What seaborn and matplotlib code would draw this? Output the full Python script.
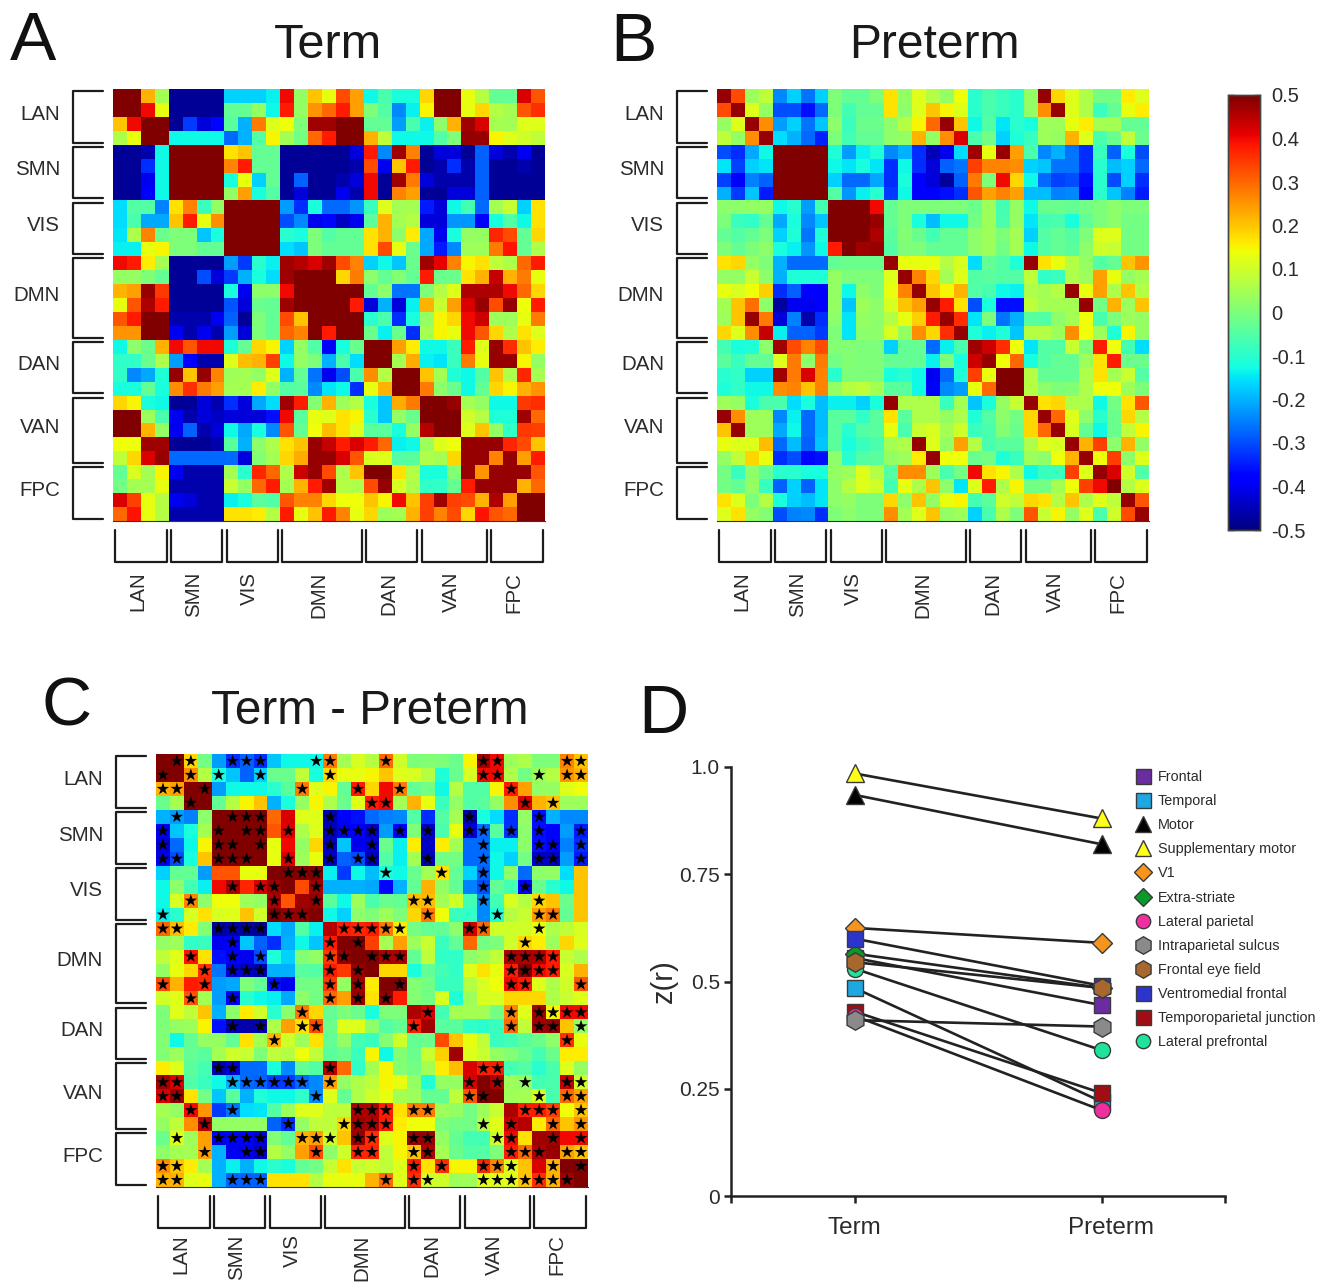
import numpy as np
import seaborn as sns
from matplotlib import pyplot as plt
from matplotlib.transforms import ScaledTranslation

# correlation values, in hundredths
term_vals = [
    [50,50,22,5,-48,-48,-48,-48,-17,-17,-17,-14,40,3,20,13,33,24,-13,-6,-12,-12,18,50,50,13,7,-3,-3,42,32],
    [50,50,40,13,-48,-48,-48,-48,-3,-3,3,-13,38,3,25,30,38,24,0,-5,-24,-14,15,50,50,13,18,7,5,32,36],
    [20,40,50,50,-48,-32,-42,-37,-4,-20,28,12,14,0,47,47,50,50,-3,-3,-22,-6,-14,2,22,47,42,5,5,12,12],
    [6,13,50,50,-13,-13,-13,-13,-27,-20,-5,15,5,-1,30,38,50,50,22,8,-13,-13,-13,-5,0,48,48,15,12,10,8],
    [-48,-48,-46,-13,50,50,50,50,17,20,-3,-3,-48,-48,-48,-48,-48,-42,38,-24,47,27,-48,-42,-42,-48,-28,-42,-46,-40,-48],
    [-48,-48,-33,-13,50,50,50,50,27,38,-3,-3,-48,-48,-48,-48,-48,-46,33,-40,20,38,-48,-46,-33,-46,-28,-48,-48,-46,-48],
    [-48,-48,-40,-13,50,50,50,50,-12,13,-17,-3,-48,-28,-48,-48,-46,-42,40,-48,47,28,-42,-46,-46,-46,-28,-48,-48,-48,-48],
    [-48,-48,-38,-13,50,50,50,50,3,24,-12,-5,-48,-42,-48,-48,-40,-46,40,-48,27,24,-48,-48,-42,-42,-28,-48,-48,-48,-48],
    [-16,-5,-5,-25,17,27,-8,3,50,50,50,50,-22,-33,-12,-27,-27,-23,-8,12,5,5,-35,-42,-13,-7,-27,5,9,-17,17],
    [-16,-6,-21,-21,20,38,13,26,50,50,50,50,-30,-24,-40,-37,-44,-40,-4,22,5,7,-42,-42,-23,-23,-38,-12,-5,-13,17],
    [-15,6,27,-2,0,0,-18,-12,50,50,50,50,-10,-12,0,-5,-3,-3,17,22,2,16,-21,-40,-12,3,3,37,33,-3,18],
    [-14,-14,13,15,0,0,-3,-3,50,50,50,50,-16,-18,0,-3,-3,-3,17,33,13,-2,-21,-35,-24,4,4,28,39,-3,6],
    [40,38,16,5,-48,-48,-48,-48,-22,-32,-10,-14,47,45,42,47,33,27,-17,-13,-18,-2,47,41,27,15,17,8,6,30,38],
    [3,3,0,-3,-48,-48,-30,-42,-32,-20,-12,-16,47,50,50,50,18,28,2,-3,1,-3,38,-2,-2,17,22,44,22,28,13],
    [22,24,48,35,-48,-48,-48,-48,-12,-40,2,2,40,50,50,50,50,50,-3,2,-26,-26,0,7,12,46,46,46,40,30,18],
    [13,32,46,38,-48,-48,-48,-48,-29,-42,-2,-3,47,50,50,50,50,38,-42,-20,-42,-14,22,9,24,42,48,33,48,14,38],
    [32,38,50,50,-46,-46,-46,-40,-28,-48,0,-3,33,20,50,50,50,50,-10,-6,-33,-12,3,15,18,40,43,4,4,13,28],
    [25,25,50,50,-40,-46,-40,-46,-22,-42,0,-3,30,27,50,38,50,50,-2,-14,-2,-33,5,15,13,40,32,18,6,17,12],
    [-13,2,-2,22,40,32,40,40,-11,-3,18,15,-17,3,-5,-38,-12,-2,50,50,24,16,-13,-13,-8,38,12,48,36,20,16],
    [-9,-9,-2,6,-22,-38,-46,-46,12,21,22,34,-13,3,0,-20,-6,-16,50,50,5,23,-14,-15,-8,28,13,48,48,15,3],
    [-9,-24,-21,-11,48,20,48,27,4,5,3,12,-20,-3,-26,-40,-30,-6,26,7,50,50,20,5,-11,-13,-5,20,6,37,5],
    [-12,-12,-3,-12,26,36,28,24,5,5,16,3,-5,-4,-24,-15,-13,-33,13,22,50,50,28,2,-2,-13,-3,18,15,22,25],
    [18,15,-12,-13,-48,-48,-42,-46,-33,-42,-21,-16,47,38,1,22,4,7,-12,-18,23,28,50,50,48,5,3,-13,-13,35,36],
    [50,50,4,-6,-40,-46,-42,-44,-42,-42,-42,-36,40,-4,13,12,17,15,-10,-18,3,-2,50,50,50,10,7,-11,-11,47,30],
    [50,50,22,3,-40,-28,-46,-42,-13,-21,-12,-24,32,-3,14,21,17,12,-4,-4,-12,3,45,50,50,12,20,3,-9,35,34],
    [14,14,47,47,-48,-48,-48,-46,-4,-20,2,6,17,20,48,44,38,42,38,30,-14,-13,4,12,14,48,48,48,37,33,20],
    [8,18,42,48,-27,-27,-27,-27,-27,-42,1,5,18,23,48,48,42,32,11,12,-5,-4,6,5,18,48,48,27,48,24,38],
    [-3,11,5,15,-40,-46,-46,-46,5,-10,37,30,6,43,48,33,6,20,50,50,17,7,-12,-12,1,48,25,48,48,48,32],
    [-1,5,5,13,-46,-46,-46,-46,9,3,30,38,5,22,38,47,7,6,33,48,11,6,-9,-9,-3,38,48,48,48,22,30],
    [42,34,13,7,-40,-42,-46,-46,-14,-12,-4,-5,32,27,27,18,14,14,20,15,40,20,34,47,34,33,22,46,24,50,50],
    [30,39,13,7,-46,-46,-46,-46,17,17,16,7,38,13,20,38,27,13,18,4,5,22,34,27,33,18,39,32,30,50,50],
]

preterm_vals = [
    [48,33,4,8,-24,-17,-26,-17,0,-3,-3,0,17,3,12,7,3,14,-10,-6,-8,-10,3,48,18,12,6,-1,-1,16,12],
    [33,48,12,3,-30,-30,-36,-27,0,-7,-3,-3,17,2,12,20,15,12,-10,-6,-8,-10,3,26,48,12,6,-8,-3,13,16],
    [3,12,48,26,-22,-17,-26,-18,2,-8,-2,-2,2,7,15,30,48,20,-13,-5,-15,-10,-12,4,4,13,16,5,5,-3,-3],
    [8,3,26,48,-16,-20,-27,-34,0,-7,-3,-3,2,3,22,3,26,42,-6,-1,-17,-11,-8,4,3,22,12,-6,-2,8,-2],
    [-30,-33,-21,-13,50,50,50,50,-11,-22,-14,-11,-24,-20,-33,-45,-40,-16,47,13,48,24,-6,-24,-20,-26,-33,-8,-28,-12,-30],
    [-15,-31,-17,-15,50,50,50,50,-13,-15,-12,-15,-33,-13,-33,-42,-28,-26,34,27,27,26,-17,-18,-26,-26,-33,-10,-19,-17,-27],
    [-31,-38,-25,-28,50,50,50,50,-17,-27,-27,-21,-33,-12,-38,-42,-47,-28,28,0,40,18,-13,-27,-31,-30,-36,-10,-30,-17,-33],
    [-20,-32,-18,-35,50,50,50,50,-5,-23,-14,-10,-32,-13,-38,-38,-36,-33,32,24,27,24,-19,-19,-25,-24,-38,-10,-18,-25,-35],
    [2,2,3,3,-13,-10,-22,-7,50,50,50,40,-3,0,0,0,0,0,-2,4,-7,3,-13,-2,-2,-3,-1,0,2,0,0],
    [0,-8,-9,-3,-21,-12,-24,-18,50,50,50,48,-3,0,-12,-19,-13,-13,-1,4,-6,3,-15,-7,-6,-12,-3,0,2,-1,-1],
    [-3,-5,-3,0,-17,-11,-26,-11,50,50,50,46,-4,1,-2,-7,-3,-3,2,4,0,5,-17,-5,-3,-5,0,12,12,-1,-1],
    [0,-3,0,2,-12,-14,-23,-13,38,50,47,48,-5,0,0,-3,-3,-3,2,4,-1,5,-13,-5,-3,-4,2,10,9,-1,-1],
    [17,18,3,0,-20,-27,-27,-27,-3,-2,-2,-2,48,13,13,13,7,11,-16,-3,-5,-11,48,17,13,7,3,-5,-3,20,25],
    [3,3,9,2,-20,-11,-11,-11,3,0,0,0,12,48,27,18,5,12,-5,-4,-5,-5,8,-9,-8,6,4,24,13,3,5],
    [13,11,14,19,-33,-28,-38,-38,3,-13,2,0,13,27,48,20,15,22,-5,-6,-13,-14,6,5,7,48,13,24,6,20,7],
    [5,20,29,2,-47,-40,-40,-38,3,-18,4,2,11,20,24,48,38,17,-30,-12,-36,-36,8,5,5,5,48,-1,22,4,20],
    [4,20,48,28,-42,-25,-46,-33,2,-15,3,2,7,13,19,38,48,36,-15,0,-26,-20,-4,-5,2,5,14,-6,0,4,3],
    [18,12,26,44,-14,-28,-28,-32,0,-15,2,2,11,3,26,18,36,48,-11,-14,-11,-18,7,7,4,26,14,4,-11,15,3],
    [-7,-12,-11,2,47,33,27,33,1,1,0,0,-17,-3,-3,-27,-14,-6,47,43,36,14,-15,-5,-5,9,0,38,14,-7,-16],
    [-4,-8,-3,-3,12,28,2,28,-1,1,0,0,-3,-3,-3,-14,0,-12,43,48,14,30,-12,-5,-3,-3,4,17,38,-2,-2],
    [-10,-9,-17,-17,47,28,42,27,-10,0,0,0,-12,-10,-13,-40,-27,-11,34,13,50,50,7,-3,-3,-3,6,17,5,9,-5],
    [-11,-9,-13,-13,26,27,20,27,3,7,8,5,-4,-4,-13,-38,-24,-22,13,30,50,50,7,2,0,1,6,14,14,4,0],
    [4,3,-12,-6,-6,-16,-12,-19,-14,-14,-17,-12,48,6,6,6,-8,5,-18,-12,3,9,48,17,18,6,6,-13,-1,17,32],
    [48,26,4,4,-24,-14,-27,-19,-4,-4,-9,-4,17,-4,6,6,3,6,-11,-5,2,-1,18,48,30,12,2,-10,-2,18,7],
    [20,48,4,4,-21,-13,-27,-19,-4,-10,-5,-4,13,-6,9,11,5,10,-8,-6,1,-2,18,30,48,11,-3,-13,-2,8,15],
    [13,12,12,21,-27,-19,-28,-18,-4,-12,-8,-6,5,6,48,12,3,24,7,-6,-4,-4,6,12,11,48,22,34,2,22,3],
    [3,8,18,13,-33,-30,-37,-36,2,-10,-5,-4,3,4,16,48,14,14,-2,-1,-11,-8,4,2,14,22,48,14,34,2,12],
    [-1,-8,2,-3,-10,-10,-12,-12,3,4,12,7,-5,26,26,4,-6,-1,40,17,15,6,-13,-8,-8,34,12,48,42,10,-5],
    [-1,-3,3,-8,-28,-17,-28,-15,2,7,12,10,-7,13,6,20,2,-15,12,38,6,15,-1,-1,5,14,34,40,50,7,12],
    [17,12,0,7,-12,-17,-19,-15,2,3,0,0,18,2,20,3,13,15,-7,-4,10,8,18,17,7,20,6,12,8,48,32],
    [12,17,3,1,-30,-25,-24,-33,0,2,0,0,26,5,12,20,3,4,-17,-6,6,0,32,9,15,3,12,-6,10,33,48],
]

diff_vals = [
    [50,50,18,-1,-22,-33,-28,-33,-18,-13,-13,-13,28,5,11,7,30,10,0,1,0,-2,15,47,40,4,6,0,0,27,20],
    [50,50,26,7,-12,-18,-28,-17,-2,-2,8,-12,18,13,13,15,20,12,11,7,-11,-2,11,40,40,6,-1,4,7,25,22],
    [22,24,50,50,-22,-13,-13,-13,-10,-4,28,12,15,-3,38,18,40,28,-3,-1,-13,7,-5,-5,15,38,24,3,3,12,14],
    [-2,5,50,50,-3,7,15,20,-20,-12,3,15,6,-2,12,38,40,5,22,13,-8,3,-5,-4,3,26,42,22,20,4,4],
    [-20,-22,-25,2,50,50,50,50,30,42,12,12,-45,-38,-36,-27,-25,-24,-5,-33,-5,5,-46,-12,-16,-33,3,-36,-20,-24,-24],
    [-40,-18,-12,5,50,50,50,50,32,42,6,12,-45,-40,-38,-44,-22,-38,0,-44,-6,13,-42,-27,-4,-33,2,-36,-38,-22,-35],
    [-42,-27,-13,15,50,50,50,50,13,40,3,18,-44,-18,-40,-42,-2,-14,16,-44,16,5,-27,-27,-14,-14,2,-36,-38,-25,-33],
    [-40,-30,-12,20,50,50,50,50,13,42,4,13,-44,-28,-30,-44,-5,-14,5,-45,-1,-1,-27,-27,-13,-17,-1,-44,-44,-22,-35],
    [-17,-3,-3,-22,32,32,13,13,50,50,50,50,-14,-32,-13,-19,-12,-13,-2,5,17,-3,-17,-28,-13,2,-27,2,3,-16,20],
    [-13,2,-7,-14,40,46,37,42,47,50,33,47,-20,-20,-20,-21,-37,-20,-3,22,3,-3,-25,-30,-3,-7,-38,-2,-10,-13,20],
    [-13,11,27,2,14,14,4,3,46,32,47,48,-4,-13,4,-6,-2,-3,21,21,5,10,-7,-24,-7,11,7,18,20,-2,20],
    [-14,-10,11,17,11,12,20,10,50,48,48,50,-13,-17,2,0,4,0,18,28,14,-8,-9,-24,-11,7,9,24,28,-3,20],
    [30,21,16,1,-47,-46,-47,-48,-16,-21,-5,-14,45,38,37,38,28,16,-1,-3,-3,2,43,30,10,10,10,13,6,8,11],
    [3,4,-9,-8,-40,-38,-18,-28,-33,-20,-13,-18,38,50,50,34,5,24,4,9,-8,-3,30,-1,0,10,18,16,4,18,12],
    [8,12,39,17,-36,-38,-40,-30,-11,-17,1,3,35,48,50,50,46,46,-3,8,-9,-9,2,4,8,46,46,46,38,9,6],
    [3,13,18,36,-26,-42,-44,-46,-20,-20,-4,-5,38,35,48,50,18,18,-12,-3,-7,-9,12,17,13,38,50,40,38,11,22],
    [33,22,38,37,-22,-21,0,-3,-36,-40,-1,-1,35,3,47,16,50,50,1,-1,-8,-8,7,11,14,40,38,12,6,10,32],
    [10,12,32,5,-22,-38,-10,-13,-14,-21,2,-1,30,24,48,17,48,38,1,-1,11,-11,4,11,11,18,18,18,6,9,12],
    [0,12,8,20,-20,2,16,10,-10,2,28,18,-3,0,-2,-12,0,0,46,42,-7,5,5,5,-1,27,12,47,15,40,40],
    [0,3,4,15,-36,-46,-46,-46,6,24,17,33,-2,12,12,2,-5,-3,38,47,-4,-4,-9,-10,-8,30,8,47,48,20,3],
    [1,-13,-3,3,3,-3,17,5,22,10,4,17,-3,3,-7,-8,1,10,-3,-2,33,20,13,8,-8,-7,-4,-2,2,36,13],
    [1,4,-3,-4,5,10,9,0,8,7,14,8,-4,-2,-8,15,-13,1,-2,9,19,47,12,9,3,1,-2,-7,-2,16,16],
    [16,12,-4,-7,-46,-42,-27,-27,-12,-24,-3,-5,45,30,-9,5,15,1,-1,5,16,21,42,38,38,-7,-5,-10,-6,12,3],
    [47,42,-5,-8,-13,-20,-27,-28,-32,-32,-27,-24,24,3,6,8,15,13,3,-11,3,3,42,50,46,4,3,-7,-6,44,10],
    [42,48,17,-1,-18,-4,-20,-11,-13,-13,-9,-24,12,-3,6,10,13,5,4,-3,-3,8,32,50,50,4,5,11,-6,30,24],
    [5,3,40,25,-32,-26,-16,-15,-5,4,12,12,8,8,46,46,38,17,28,28,4,3,-1,4,9,46,38,38,34,14,20],
    [3,8,26,45,3,3,3,3,-28,-33,3,8,8,18,47,46,38,16,14,14,0,-1,-1,7,12,43,45,16,30,20,25],
    [-2,12,4,24,-40,-38,-38,-42,1,-3,22,24,10,20,48,36,12,15,48,48,3,-3,-7,-7,10,40,17,47,47,40,40],
    [2,5,5,24,-20,-40,-40,-44,7,3,24,33,2,10,37,37,8,15,20,46,5,-2,-5,-5,0,38,30,46,48,24,20],
    [26,20,16,5,-20,-14,-20,-13,-10,-12,-3,-1,9,17,9,10,8,12,38,17,36,15,15,37,27,12,20,42,22,50,50],
    [22,22,12,13,-20,-28,-28,-28,17,17,17,7,13,13,13,22,30,12,36,10,10,4,4,13,12,12,20,36,22,47,50],
]

# significant cells in panel C, list of columns per row
star_cols = [
    [1,2,5,6,7,11,12,16,23,24,29,30],
    [0,2,4,7,12,23,24,27,29,30],
    [0,1,3,10,14,17,25],
    [2,15,16,26,28],
    [1,5,6,7,12,22,27],
    [0,4,6,7,9,12,13,14,15,17,19,22,23,25,27,30],
    [0,4,5,7,12,15,23,27,28,30],
    [0,1,4,5,6,9,12,14,15,19,23,27,28,30],
    [9,10,11,16,20,23],
    [5,7,8,11,23,26],
    [2,8,11,18,19,23,27],
    [0,8,9,10,19,24,27,28],
    [0,1,4,5,6,7,13,14,15,16,17,22,23,27],
    [5,12,14,26],
    [2,5,7,12,13,15,16,17,25,26,27,28],
    [3,5,6,7,12,14,25,26,27,28],
    [0,3,8,12,14,17,25,26,30],
    [2,5,12,14,16],
    [10,19,25,27,28,29,30],
    [5,7,10,11,18,25,27,28,30],
    [8,29],
    [],
    [4,5,12,23,24],
    [0,1,5,6,7,8,9,10,12,22,24,26,29,30],
    [0,1,11,22,23,27,29,30],
    [2,5,14,15,16,18,19,26,27,28,30],
    [3,9,13,14,15,16,23,25,28,30],
    [1,4,5,6,7,10,11,12,14,15,18,19,24,25,28,30],
    [3,6,7,11,14,15,18,19,25,26,27,29,30],
    [0,1,18,20,23,24,25,28,30],
    [0,1,5,6,7,16,18,19,23,24,25,26,27,28,29],
]

networks = ['LAN', 'SMN', 'VIS', 'DMN', 'DAN', 'VAN', 'FPC']
network_sizes = [4, 4, 4, 6, 4, 5, 4]
cbar_ticks = [-0.5, -0.4, -0.3, -0.2, -0.1, 0, 0.1, 0.2, 0.3, 0.4, 0.5]

conditions = ['Term', 'Preterm']
regions = ['Frontal', 'Temporal', 'Motor', 'Supplementary motor', 'V1', 'Extra-striate', 'Lateral parietal',
           'Intraparietal sulcus', 'Frontal eye field', 'Ventromedial frontal', 'Temporoparietal junction',
           'Lateral prefrontal']
term_z = [0.555, 0.485, 0.935, 0.985, 0.625, 0.565, 0.42, 0.41, 0.545, 0.60, 0.43, 0.53]
preterm_z = [0.445, 0.22, 0.82, 0.88, 0.59, 0.485, 0.20, 0.395, 0.485, 0.49, 0.24, 0.34]
region_colors = ['#6a2ca0', '#1ea7e1', '#000000', '#ffff1a', '#f7941d', '#0a9a2a', '#ee2fa0', '#8a8a8a', '#a8672f',
                 '#2b35cc', '#a00d14', '#1fe39a']
region_markers = ['s', 's', '^', '^', 'D', 'D', 'o', 'h', 'h', 's', 's', 'o']
draw_order = [0, 1, 2, 3, 4, 5, 11, 9, 10, 6, 8, 7]
marker_sizes = {'s': 12, '^': 13, 'D': 10, 'o': 11.5, 'h': 14}

W, H = 1330, 1283
TEXT = '#2b2b2b'
SANS = 'Liberation Sans'

sns.set_style('white')
plt.rcParams['font.family'] = [SANS, 'DejaVu Sans']


def axes_px(fig, left, top, right, bottom):
    return fig.add_axes([left / W, 1 - bottom / H, (right - left) / W, (bottom - top) / H])


def draw_matrix(ax, vals, cbar_ax=None, label_y=34.65):
    sns.heatmap(np.array(vals) / 100, ax=ax, cmap='jet', vmin=-0.5, vmax=0.5, square=False,
                xticklabels=False, yticklabels=False, cbar=cbar_ax is not None, cbar_ax=cbar_ax)
    ax.set_xlim(0, 31)
    ax.set_ylim(31, 0)
    start = 0
    for name, size in zip(networks, network_sizes):
        end = start + size
        mid = start + size / 2
        ax.plot([-0.7, -2.85, -2.85, -0.7], [start + 0.15, start + 0.15, end - 0.15, end - 0.15],
                color='#1c1c1c', lw=1.6, clip_on=False)
        ax.plot([start + 0.15, start + 0.15, end - 0.15, end - 0.15], [31.65, 33.95, 33.95, 31.65],
                color='#1c1c1c', lw=1.6, clip_on=False)
        ax.text(-3.8, mid - 0.2, name, ha='right', va='center', fontsize=14.8, color=TEXT, clip_on=False)
        ax.text(mid - 0.2, label_y, name, ha='center', va='top', rotation=90, fontsize=14.8, color=TEXT,
                clip_on=False)
        start = end
    for side in ['top', 'left', 'right']:
        ax.spines[side].set_visible(False)
    ax.spines['bottom'].set_visible(True)
    ax.spines['bottom'].set_color('#333333')


fig = plt.figure(figsize=(W / 100, H / 100), dpi=100, facecolor='white')

ax_a = axes_px(fig, 113, 89, 545, 521)
draw_matrix(ax_a, term_vals)

ax_cb = axes_px(fig, 1228, 95, 1260, 530)
ax_b = axes_px(fig, 717, 89, 1149, 521)
draw_matrix(ax_b, preterm_vals, cbar_ax=ax_cb)
ax_cb.set_yticks(cbar_ticks)
ax_cb.set_yticklabels([f'{t:g}' for t in cbar_ticks], fontsize=14.5, color=TEXT)
ax_cb.tick_params(axis='y', which='both', direction='in', left=True, right=True, length=4, width=1,
                  color='#222222', pad=8, labelleft=False, labelright=True)
for spine in ax_cb.spines.values():
    spine.set_visible(True)
    spine.set_color('#444444')
    spine.set_linewidth(1)

ax_c = axes_px(fig, 156, 754, 588, 1187)
draw_matrix(ax_c, diff_vals, label_y=34.4)
star_x = [c + 0.5 for row in star_cols for c in row]
star_y = [i + 0.5 for i, row in enumerate(star_cols) for c in row]
sns.scatterplot(x=star_x, y=star_y, marker='*', s=90, color='black', edgecolor='none', ax=ax_c, zorder=3)
ax_c.set_xlim(0, 31)
ax_c.set_ylim(31, 0)
ax_c.set_xlabel('')
ax_c.set_ylabel('')

# panel D
ax_d = axes_px(fig, 731, 767, 1225, 1196)
for idx in draw_order:
    sns.lineplot(x=conditions, y=[term_z[idx], preterm_z[idx]], ax=ax_d, color='#222222', lw=1.9,
                 marker=region_markers[idx], markersize=marker_sizes[region_markers[idx]],
                 markerfacecolor=region_colors[idx], markeredgecolor='#3a3a3a', markeredgewidth=1,
                 label=regions[idx], zorder=3 + draw_order.index(idx), clip_on=False)
ax_d.set_xlim(-0.5, 1.5)
ax_d.set_ylim(0, 1)
ax_d.set_yticks([0, 0.25, 0.5, 0.75, 1.0])
ax_d.set_yticklabels(['0', '0.25', '0.5', '0.75', '1.0'], fontsize=15, color=TEXT)
ax_d.set_xticks([0, 1])
ax_d.set_xticklabels(conditions, fontsize=17.5, color=TEXT)
ax_d.set_xticks([-0.5, 1.5], minor=True)
ax_d.tick_params(axis='both', which='both', direction='out', length=5, width=1.8, color='#222222',
                 left=True, bottom=True)
ax_d.tick_params(axis='x', which='major', pad=10)
ax_d.tick_params(axis='y', which='major', pad=3)
ax_d.get_xticklabels()[1].set_transform(ax_d.get_xticklabels()[1].get_transform()
                                        + ScaledTranslation(9 / 100, 0, fig.dpi_scale_trans))
ax_d.set_ylabel('z(r)', fontsize=21, color=TEXT, labelpad=1)
ax_d.set_xlabel('')
sns.despine(ax=ax_d)
for side in ['left', 'bottom']:
    ax_d.spines[side].set_linewidth(1.8)
    ax_d.spines[side].set_color('#222222')

handles, labels = ax_d.get_legend_handles_labels()
by_label = dict(zip(labels, handles))
leg = ax_d.legend([by_label[r] for r in regions], regions, loc='upper left',
                  bbox_to_anchor=((1136 - 731) / 494, 1.0 - 3 / 429), frameon=False, fontsize=10.4,
                  labelspacing=0.70, handlelength=1.0, handletextpad=0.5, borderaxespad=0, borderpad=0,
                  markerscale=0.9, numpoints=1, labelcolor=TEXT)
for h in leg.legend_handles:
    h.set_linestyle('none')

# titles and panel letters
for label, x, y, size in [('Term', 328, 45, 35), ('Preterm', 934, 45, 34.6), ('Term - Preterm', 370, 711, 34.3)]:
    fig.text(x / W, 1 - y / H, label, ha='center', va='center', fontsize=size, color='#1a1a1a')
for label, x, y in [('A', 33, 42), ('B', 633, 43), ('C', 67, 708), ('D', 663, 715)]:
    fig.text(x / W, 1 - y / H, label, ha='center', va='center', fontsize=50, color='#111111')

plt.savefig('out.png', dpi=100)
